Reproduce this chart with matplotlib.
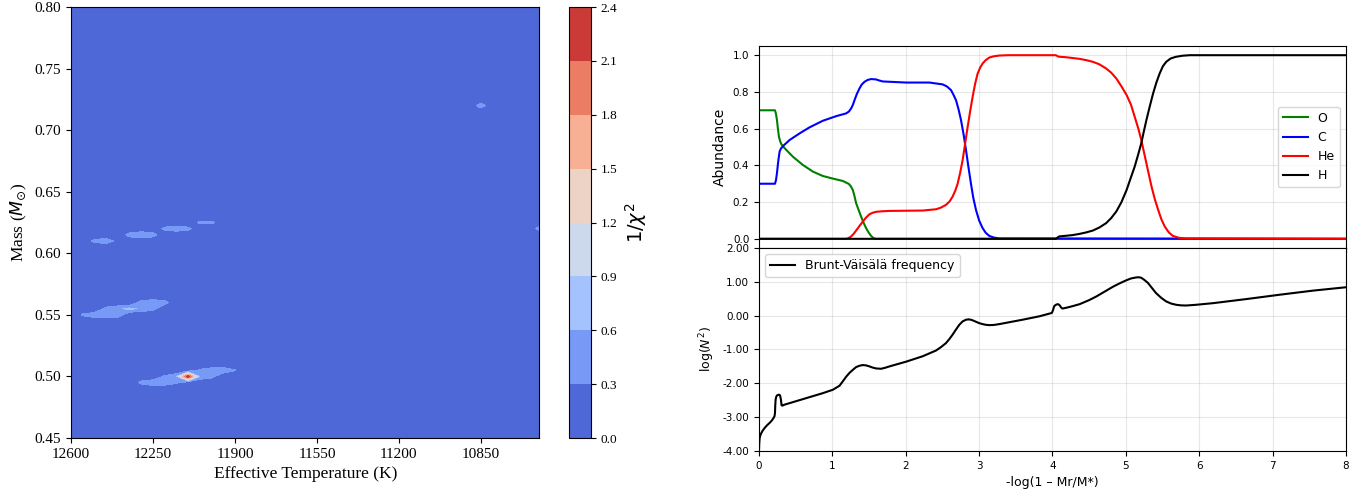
import numpy as np
import matplotlib
matplotlib.use('Agg')
import matplotlib.pyplot as plt
from matplotlib.ticker import FormatStrFormatter

# ========== Left panel: 1/chi^2 map (non-zero grid nodes) ==========
peak_teff = [12500, 12450, 12400,
             12350, 12300, 12250,
             12200, 12150, 12100,
             12050, 12000,
             10600, 10850,
             12550, 12500, 12450, 12400,
             12450, 12400, 12350, 12300, 12250,
             12300, 12250, 12200,
             12300, 12250, 12200, 12150,
             12200, 12150, 12100, 12050, 12000,
             12050, 12000, 11950, 11900]
peak_mass = [0.610, 0.610, 0.610,
             0.615, 0.615, 0.615,
             0.620, 0.620, 0.620,
             0.625, 0.625,
             0.620, 0.720,
             0.550, 0.550, 0.550, 0.550,
             0.555, 0.555, 0.555, 0.555, 0.555,
             0.560, 0.560, 0.560,
             0.495, 0.495, 0.495, 0.495,
             0.500, 0.500, 0.500, 0.500, 0.500,
             0.505, 0.505, 0.505, 0.505]
peak_val = [0.40, 0.50, 0.20,
            0.45, 0.58, 0.45,
            0.40, 0.50, 0.40,
            0.38, 0.38,
            0.45, 0.50,
            0.35, 0.50, 0.55, 0.50,
            0.40, 0.55, 0.68, 0.55, 0.40,
            0.45, 0.55, 0.45,
            0.40, 0.55, 0.50, 0.35,
            0.35, 0.55, 2.35, 0.55, 0.40,
            0.35, 0.50, 0.55, 0.32]

teff_grid = np.arange(10600, 12601, 50)
mass_grid = np.round(np.arange(0.45, 0.8001, 0.005), 3)
levels = np.round(np.arange(0, 2.41, 0.3), 1)

# ========== Right panels: chemical profiles and Brunt-Vaisala frequency ==========
o_x = [0, 0.218, 0.232, 0.245, 0.258, 0.272, 0.288, 0.304, 0.34, 0.372, 0.463,
       0.599, 0.735, 0.871, 1.007, 1.143, 1.224, 1.25, 1.279, 1.30, 1.324, 1.36,
       1.392, 1.425, 1.46, 1.495, 1.528, 1.555, 1.587, 8]
o_y = [0.70, 0.70, 0.68, 0.647, 0.60, 0.556, 0.532, 0.516, 0.498, 0.484, 0.447,
       0.402, 0.366, 0.342, 0.328, 0.315, 0.299, 0.287, 0.266, 0.235, 0.194, 0.155,
       0.121, 0.088, 0.058, 0.034, 0.016, 0.006, 0.0, 0.0]

c_x = [0, 0.218, 0.232, 0.245, 0.262, 0.281, 0.30, 0.327, 0.417, 0.553, 0.689,
       0.871, 1.052, 1.188, 1.225, 1.256, 1.28, 1.302, 1.335, 1.370, 1.40, 1.438,
       1.48, 1.528, 1.596, 1.64, 1.687, 2.005, 2.322, 2.503, 2.56, 2.617, 2.65,
       2.685, 2.72, 2.753, 2.79, 2.821, 2.855, 2.889, 2.92, 2.957, 3.0, 3.048,
       3.09, 3.138, 3.2, 3.274, 8]
c_y = [0.30, 0.30, 0.32, 0.357, 0.42, 0.475, 0.492, 0.505, 0.538, 0.574, 0.607,
       0.643, 0.668, 0.683, 0.693, 0.710, 0.73, 0.755, 0.79, 0.819, 0.84, 0.855,
       0.865, 0.870, 0.868, 0.862, 0.857, 0.851, 0.851, 0.841, 0.83, 0.81, 0.785,
       0.755, 0.705, 0.647, 0.565, 0.484, 0.39, 0.30, 0.225, 0.158, 0.10, 0.058,
       0.033, 0.016, 0.007, 0.002, 0.0]

he_x = [0, 1.188, 1.22, 1.256, 1.29, 1.324, 1.37, 1.415, 1.46, 1.506, 1.55,
        1.596, 1.68, 1.778, 2.231, 2.413, 2.48, 2.549, 2.60, 2.639, 2.675, 2.707,
        2.742, 2.776, 2.81, 2.844, 2.878, 2.912, 2.946, 2.980, 3.014, 3.048, 3.09,
        3.138, 3.2, 3.274, 3.4, 4.045, 4.082, 4.181, 4.37, 4.46, 4.55, 4.64, 4.73,
        4.80, 4.87, 4.94, 5.01, 5.07, 5.12, 5.17, 5.21, 5.245, 5.28, 5.315, 5.35,
        5.395, 5.44, 5.485, 5.53, 5.585, 5.64, 5.72, 5.82, 8]
he_y = [0.0, 0.0, 0.004, 0.013, 0.027, 0.045, 0.07, 0.094, 0.116, 0.134, 0.142,
        0.147, 0.150, 0.152, 0.154, 0.161, 0.17, 0.185, 0.205, 0.23, 0.262, 0.30,
        0.36, 0.43, 0.52, 0.61, 0.695, 0.774, 0.845, 0.90, 0.932, 0.955, 0.973,
        0.987, 0.994, 0.998, 1.0, 1.0, 0.992, 0.989, 0.980, 0.973, 0.964, 0.95, 0.928,
        0.905, 0.873, 0.83, 0.783, 0.73, 0.665, 0.60, 0.538, 0.475, 0.411, 0.347, 0.284,
        0.215, 0.158, 0.105, 0.067, 0.035, 0.016, 0.006, 0.002, 0.0]

h_x = [0, 4.045, 4.09, 4.27, 4.37, 4.46, 4.55, 4.64, 4.73, 4.80, 4.87, 4.94,
       5.01, 5.065, 5.12, 5.165, 5.21, 5.245, 5.28, 5.325, 5.37, 5.415, 5.46,
       5.505, 5.55, 5.61, 5.68, 5.77, 5.87, 8]
h_y = [0.0, 0.0, 0.013, 0.02, 0.027, 0.035, 0.045, 0.062, 0.085, 0.113, 0.149, 0.20,
       0.266, 0.33, 0.393, 0.455, 0.52, 0.585, 0.647, 0.72, 0.79, 0.85, 0.90,
       0.94, 0.964, 0.982, 0.991, 0.997, 1.0, 1.0]

bv_x = [0, 0.003, 0.009, 0.02, 0.032, 0.05, 0.077, 0.11, 0.145, 0.175, 0.2,
        0.212, 0.218, 0.222, 0.227, 0.235, 0.245, 0.262, 0.281, 0.29, 0.299,
        0.308, 0.32, 0.349, 0.871, 1.007, 1.098, 1.143, 1.19, 1.234, 1.28, 1.324,
        1.37, 1.415, 1.46, 1.506, 1.55, 1.596, 1.664, 1.72, 1.778, 2.005, 2.231,
        2.413, 2.48, 2.549, 2.595, 2.639, 2.685, 2.730, 2.775, 2.821, 2.855, 2.889,
        2.92, 2.957, 3.0, 3.048, 3.09, 3.138, 3.2, 3.274, 3.592, 3.819, 3.991,
        4.005, 4.023, 4.045, 4.068, 4.085, 4.100, 4.118, 4.136, 4.2, 4.272, 4.37,
        4.5, 4.6, 4.82, 4.91, 5.0, 5.07, 5.14, 5.18, 5.21, 5.25, 5.3, 5.355, 5.41,
        5.48, 5.55, 5.62, 5.69, 5.75, 5.82, 5.95, 6.19, 6.64, 7.10, 7.55, 8.0]
bv_y = [-4.0, -3.8, -3.62, -3.53, -3.47, -3.40, -3.32, -3.24, -3.17, -3.10, -3.02,
        -2.97, -2.88, -2.65, -2.48, -2.40, -2.36, -2.34, -2.34, -2.38, -2.48,
        -2.65, -2.66, -2.63, -2.29, -2.19, -2.07, -1.94, -1.80, -1.69, -1.60, -1.52,
        -1.48, -1.46, -1.47, -1.50, -1.535, -1.56, -1.57, -1.54, -1.50, -1.36, -1.20,
        -1.03, -0.93, -0.81, -0.69, -0.56, -0.41, -0.27, -0.17, -0.12, -0.11, -0.12,
        -0.145, -0.18, -0.22, -0.25, -0.27, -0.28, -0.275, -0.25, -0.12, -0.02, 0.08,
        0.15, 0.28, 0.32, 0.34, 0.33, 0.30, 0.24, 0.21, 0.24, 0.28, 0.34,
        0.46, 0.57, 0.85, 0.95, 1.04, 1.10, 1.13, 1.135, 1.12, 1.06, 0.97, 0.82, 0.67,
        0.53, 0.42, 0.355, 0.32, 0.305, 0.30, 0.32, 0.37, 0.49, 0.62, 0.74, 0.84]

# Build the chi^2 grid (zero everywhere except the nodes above)
Z = np.zeros((len(mass_grid), len(teff_grid)))
for t, m, v in zip(peak_teff, peak_mass, peak_val):
    i = int(np.argmin(np.abs(mass_grid - m)))
    j = int(np.argmin(np.abs(teff_grid - t)))
    Z[i, j] = v

fig = plt.figure(figsize=(13.69, 4.91), dpi=100)

# ---- left map ----
serif = ['Liberation Serif', 'DejaVu Serif']
ax0 = fig.add_axes([0.0519, 0.1079, 0.3421, 0.8778])
cs = ax0.contourf(teff_grid, mass_grid, Z, levels=levels, cmap='coolwarm')
ax0.set_xlim(12600, 10600)
ax0.set_ylim(0.45, 0.80)
ax0.set_xticks([12600, 12250, 11900, 11550, 11200, 10850])
ax0.set_yticks(np.round(np.arange(0.45, 0.801, 0.05), 2))
ax0.yaxis.set_major_formatter(FormatStrFormatter('%.2f'))
for lab in ax0.get_xticklabels() + ax0.get_yticklabels():
    lab.set_family(serif)
    lab.set_fontsize(11)
ax0.set_xlabel('Effective Temperature (K)', family=serif, fontsize=12.5)
ax0.set_ylabel(r'Mass ($M_{\odot}$)', family=serif, fontsize=12.5)

cax = fig.add_axes([0.4156, 0.1079, 0.0161, 0.8778])
cb = fig.colorbar(cs, cax=cax, ticks=levels)
cb.ax.yaxis.set_major_formatter(FormatStrFormatter('%.1f'))
for lab in cb.ax.get_yticklabels():
    lab.set_family(serif)
    lab.set_fontsize(9.5)
cb.set_label(r'$1/\chi^2$', fontsize=14, labelpad=4)

# ---- right: abundances ----
ax1 = fig.add_axes([0.5544, 0.4949, 0.4288, 0.4114])
ax1.plot(o_x, o_y, color='green', lw=1.5, label='O')
ax1.plot(c_x, c_y, color='blue', lw=1.5, label='C')
ax1.plot(he_x, he_y, color='red', lw=1.5, label='He')
ax1.plot(h_x, h_y, color='black', lw=1.5, label='H')
ax1.set_xlim(0, 8)
ax1.set_yticks([0.0, 0.2, 0.4, 0.6, 0.8, 1.0])
ax1.set_ylabel('Abundance', fontsize=10)
ax1.tick_params(labelbottom=False, labelsize=7.5)
ax1.grid(True, alpha=0.3)
ax1.legend(loc='center right', fontsize=9)

# ---- right: Brunt-Vaisala ----
ax2 = fig.add_axes([0.5544, 0.0815, 0.4288, 0.4134], sharex=ax1)
ax2.plot(bv_x, bv_y, color='black', lw=1.5, label='Brunt-Väisälä frequency')
ax2.set_xlim(0, 8)
ax2.set_ylim(-4, 2)
ax2.set_yticks([-4, -3, -2, -1, 0, 1, 2])
ax2.yaxis.set_major_formatter(FormatStrFormatter('%.2f'))
ax2.tick_params(labelsize=7.5)
ax2.set_ylabel(r'log($N^2$)', fontsize=9)
ax2.set_xlabel('-log(1 – Mr/M*)', fontsize=9)
ax2.grid(True, alpha=0.3)
ax2.legend(loc='upper left', fontsize=9)

fig.savefig('out.png', dpi=100)
